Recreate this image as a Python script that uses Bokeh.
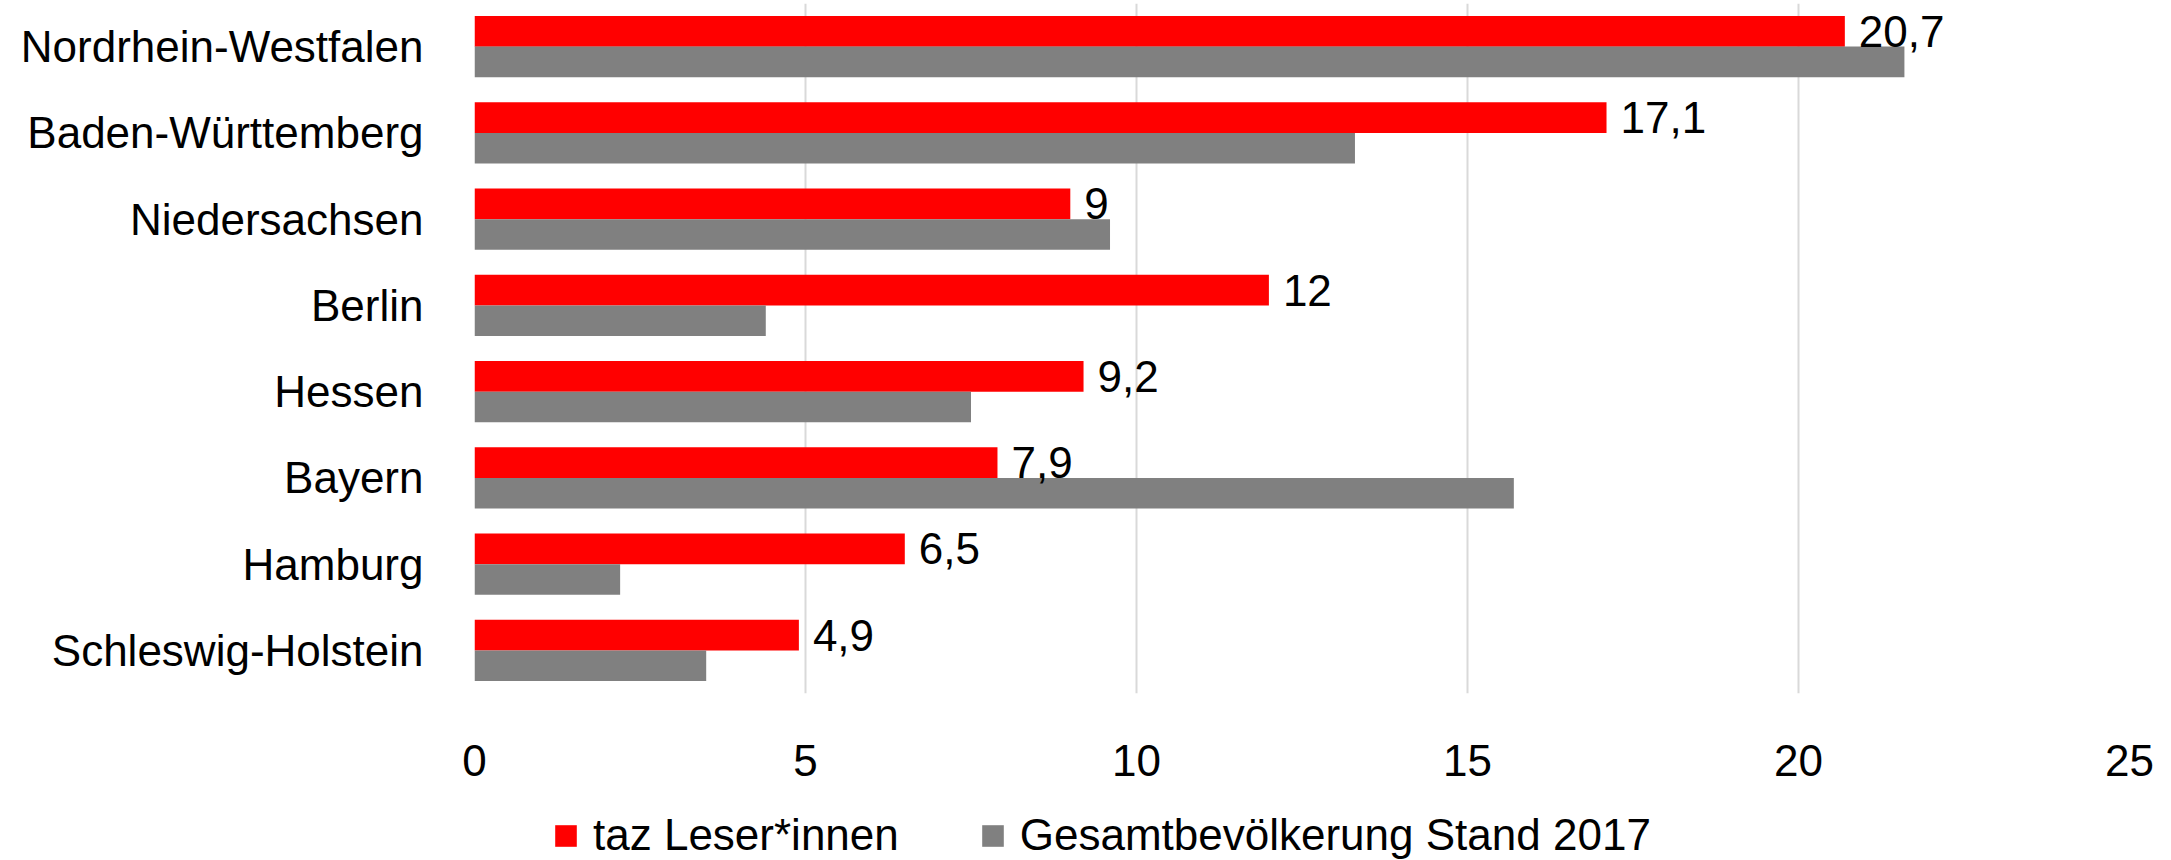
from bokeh.plotting import figure
from bokeh.layouts import column
from bokeh.models import FactorRange, Range1d, ColumnDataSource, Legend, LegendItem, FixedTicker
from bokeh.transform import dodge
from bokeh.core.properties import value
from bokeh.embed import file_html
from bokeh.resources import INLINE

# ---- data ----
states = ["Nordrhein-Westfalen", "Baden-Württemberg", "Niedersachsen", "Berlin",
          "Hessen", "Bayern", "Hamburg", "Schleswig-Holstein"]
taz_leser = [20.7, 17.1, 9, 12, 9.2, 7.9, 6.5, 4.9]
gesamtbevoelkerung = [21.6, 13.3, 9.6, 4.4, 7.5, 15.7, 2.2, 3.5]
x_ticks = [0, 5, 10, 15, 20, 25]
series_names = ["taz Leser*innen", "Gesamtbevölkerung Stand 2017"]
series_colors = ["#FF0000", "#808080"]

FONT = "Liberation Sans"
FS = "44px"
W = 2165

labels = [f"{v:g}".replace(".", ",") for v in taz_leser]
src = ColumnDataSource(dict(state=states, taz=taz_leser, ges=gesamtbevoelkerung, label=labels))

p = figure(width=W, height=796,
           y_range=FactorRange(factors=list(reversed(states)), range_padding=0, factor_padding=0),
           x_range=Range1d(0, 25),
           output_backend="svg", toolbar_location=None,
           min_border_left=474, min_border_right=36, min_border_top=3, min_border_bottom=103)

bar_h = 0.356
off = bar_h / 2
p.hbar(y=dodge("state", off, range=p.y_range), left=0, right="taz", height=bar_h,
       fill_color=series_colors[0], line_color=None, source=src)
p.hbar(y=dodge("state", -off, range=p.y_range), left=0, right="ges", height=bar_h,
       fill_color=series_colors[1], line_color=None, source=src)

p.text(x="taz", y=dodge("state", off, range=p.y_range), text="label", source=src,
       x_offset=14, y_offset=0, text_baseline="middle", text_align="left",
       text_font=value(FONT), text_font_size=FS, text_color="#000000")

p.xaxis.ticker = FixedTicker(ticks=x_ticks)
for ax in (p.xaxis[0], p.yaxis[0]):
    ax.axis_line_color = None
    ax.major_tick_line_color = None
    ax.minor_tick_line_color = None
    ax.major_label_text_font = FONT
    ax.major_label_text_font_size = FS
    ax.major_label_text_color = "#000000"
p.xaxis.major_label_standoff = 45
p.yaxis.major_label_standoff = 45

p.ygrid.grid_line_color = None
p.xgrid.grid_line_color = "#D9D9D9"
p.xgrid.grid_line_width = 2
p.outline_line_color = None
p.background_fill_color = "white"
p.border_fill_color = "white"

# ---- legend strip below the chart (its key renderers draw nothing visible) ----
lp = figure(width=W, height=64, x_range=Range1d(-2, -1),
            y_range=FactorRange(factors=list(reversed(states))),
            x_axis_type=None, y_axis_type=None, output_backend="svg", toolbar_location=None,
            min_border_left=0, min_border_right=0, min_border_top=0, min_border_bottom=0)
lp.grid.grid_line_color = None
lp.outline_line_color = None
lp.background_fill_color = "white"
lp.border_fill_color = "white"
k1 = lp.hbar(y="state", left=0, right="taz", height=0, source=src,
             fill_color=series_colors[0], line_color=None)
k2 = lp.hbar(y="state", left=0, right="ges", height=0, source=src,
             fill_color=series_colors[1], line_color=None)

legend = Legend(items=[LegendItem(label=series_names[0], renderers=[k1]),
                       LegendItem(label=series_names[1], renderers=[k2])],
                location=(78, 0), orientation="horizontal",
                glyph_width=27, glyph_height=27, label_standoff=14, spacing=80,
                padding=0, margin=0, border_line_color=None, background_fill_alpha=0,
                label_text_font=FONT, label_text_font_size=FS, label_text_color="#000000")
lp.add_layout(legend)

layout = column(p, lp, spacing=0)
open("out.html", "w").write(file_html(layout, INLINE))
